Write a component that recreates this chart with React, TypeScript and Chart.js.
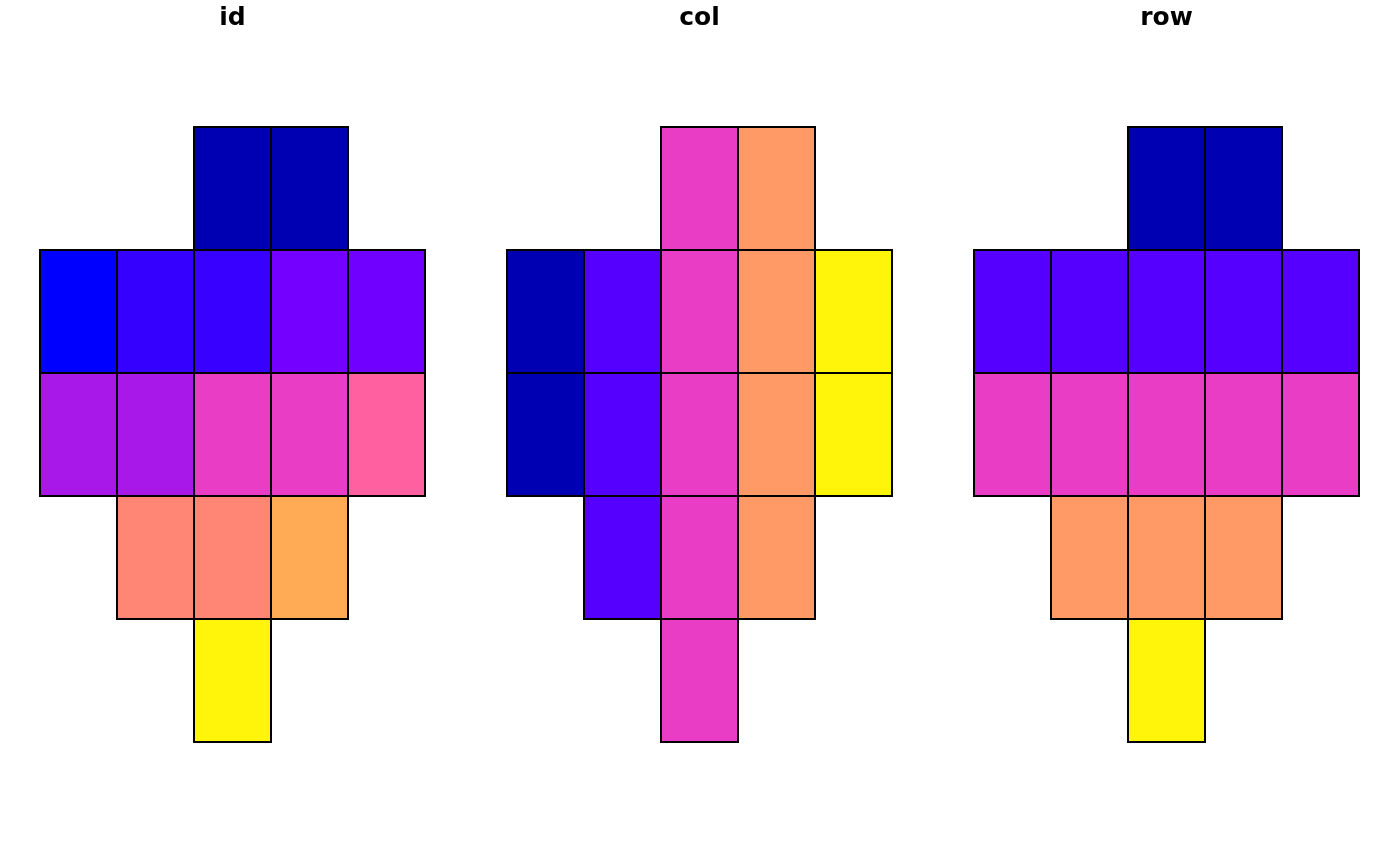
import React, { useEffect, useRef } from "react";
import { Chart, registerables } from "chart.js";

Chart.register(...registerables);

// Panel titles (variables mapped)
const panelTitles = ["id", "col", "row"];

// Grid columns / rows
const columnLabels = ["1", "2", "3", "4", "5"];
const rowNumbers = [1, 2, 3, 4, 5];

// 16 cells: their ids, rows and columns
const cellId = [1, 2, 3, 4, 5, 6, 7, 8, 9, 10, 11, 12, 13, 14, 15, 16];
const cellRow = [1, 1, 2, 2, 2, 2, 2, 3, 3, 3, 3, 3, 4, 4, 4, 5];
const cellCol = [3, 4, 1, 2, 3, 4, 5, 1, 2, 3, 4, 5, 2, 3, 4, 3];

// Fill colours
const idFill = [
  "#0000B3", "#0000B3",
  "#0000FF", "#3600FF", "#3800FF", "#7400FF", "#7000FF",
  "#A818E8", "#A818E8", "#E83DC4", "#E83DC4", "#FF61A0",
  "#FF8575", "#FF8575", "#FFAA55",
  "#FFF50A",
];
const classFill = ["#0000B3", "#5500FF", "#E83DC4", "#FF9966", "#FFF50A"];

function cellColour(panel: string, i: number): string {
  if (panel === "id") return idFill[cellId[i] - 1];
  if (panel === "col") return classFill[cellCol[i] - 1];
  return classFill[cellRow[i] - 1];
}

function buildDatasets(panel: string) {
  return rowNumbers.map((r) => {
    const idx = cellRow
      .map((row, i) => (row === r ? i : -1))
      .filter((i) => i >= 0);
    return {
      label: `row ${r}`,
      data: idx.map((i) => ({
        x: columnLabels[cellCol[i] - 1],
        y: [cellRow[i] - 0.5, cellRow[i] + 0.5],
      })),
      backgroundColor: idx.map((i) => cellColour(panel, i)),
      borderColor: "#000000",
      borderWidth: 2,
      borderSkipped: false as const,
      inflateAmount: 1,
      categoryPercentage: 1,
      barPercentage: 1,
      clip: false as const,
    };
  });
}

function Panel({ title }: { title: string }) {
  const ref = useRef<HTMLCanvasElement | null>(null);
  useEffect(() => {
    if (!ref.current) return;
    const chart = new Chart(ref.current, {
      type: "bar",
      data: { labels: columnLabels, datasets: buildDatasets(title) as any },
      options: {
        animation: false,
        responsive: true,
        maintainAspectRatio: false,
        layout: { padding: { left: 40, right: 42, top: 0, bottom: 124 } },
        plugins: {
          legend: { display: false },
          tooltip: { enabled: false },
          title: {
            display: true,
            text: title,
            color: "#000000",
            font: { family: "DejaVu Sans", size: 25, weight: "bold" },
            padding: { top: 3, bottom: 94 },
          },
        },
        scales: {
          x: { type: "category", stacked: true, display: false, offset: true },
          y: {
            type: "linear",
            stacked: false,
            min: 0.5,
            max: 5.5,
            reverse: true,
            display: false,
          },
        },
      },
    });
    return () => chart.destroy();
  }, [title]);
  return (
    <div style={{ position: "relative", width: 467, height: 866, flex: "0 0 467px" }}>
      <canvas ref={ref} />
    </div>
  );
}

export default function App() {
  return (
    <div
      style={{
        position: "fixed",
        left: 0,
        top: 0,
        width: 1400,
        height: 866,
        display: "flex",
        overflow: "hidden",
        background: "#ffffff",
      }}
    >
      {panelTitles.map((t) => (
        <Panel key={t} title={t} />
      ))}
    </div>
  );
}
